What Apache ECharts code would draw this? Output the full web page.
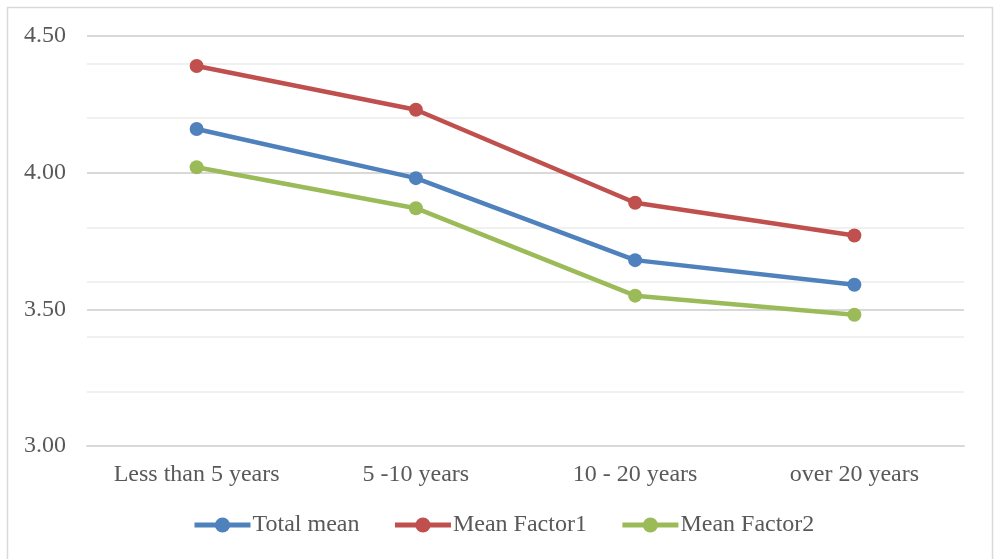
<!DOCTYPE html>
<html>
<head>
<meta charset="utf-8">
<script src="https://cdn.jsdelivr.net/npm/echarts@6/dist/echarts.min.js"></script>
<style>
  html, body { margin: 0; padding: 0; background: #fff; }
  #chart { width: 994px; height: 559px; }
</style>
</head>
<body>
<div id="chart"></div>
<script>
// Mean scores by years of experience
const categories = ['Less than 5 years', '5 -10 years', '10 - 20 years', 'over 20 years'];
const totalMean = [4.16, 3.98, 3.68, 3.59];
const meanFactor1 = [4.39, 4.23, 3.89, 3.77];
const meanFactor2 = [4.02, 3.87, 3.55, 3.48];
const seriesNames = ['Total mean', 'Mean Factor1', 'Mean Factor2'];
const seriesColors = ['#4F81BD', '#C0504D', '#9BBB59'];

const FONT = '"Liberation Serif", "Times New Roman", serif';
const TEXT_COLOR = '#595959';

const chart = echarts.init(document.getElementById('chart'), null, { renderer: 'canvas' });

function lineSeries(name, data, color) {
  return {
    name: name,
    type: 'line',
    yAxisIndex: 0,
    data: data,
    symbol: 'circle',
    symbolSize: 14,
    lineStyle: { color: color, width: 4.5 },
    itemStyle: { color: color },
    emphasis: { disabled: true },
    animation: false
  };
}

chart.setOption({
  backgroundColor: '#ffffff',
  animation: false,
  graphic: [{
    type: 'rect',
    shape: { x: 7.5, y: 7.5, width: 985, height: 570 },
    style: { fill: 'none', stroke: '#D9D9D9', lineWidth: 1.5 },
    silent: true,
    z: -10
  }],
  grid: { left: 87, right: 30, top: 36, bottom: 113, containLabel: false },
  legend: {
    data: seriesNames,
    bottom: 17,
    left: 187,
    itemWidth: 56,
    itemHeight: 19,
    itemGap: 33,
    lineStyle: { width: 5 },
    textStyle: { fontFamily: FONT, fontSize: 24, color: TEXT_COLOR, padding: [0, 0, 0, -3] }
  },
  xAxis: {
    type: 'category',
    data: categories,
    boundaryGap: true,
    axisLine: { show: true, lineStyle: { color: '#D9D9D9', width: 2 } },
    axisTick: { show: false },
    axisLabel: { fontFamily: FONT, fontSize: 24, color: TEXT_COLOR, margin: 17 }
  },
  yAxis: [{
    type: 'value',
    min: 3,
    max: 4.5,
    interval: 0.5,
    axisLine: { show: false },
    axisTick: { show: false },
    axisLabel: {
      fontFamily: FONT, fontSize: 24, color: TEXT_COLOR, margin: 21,
      formatter: v => v.toFixed(2)
    },
    splitLine: { show: true, lineStyle: { color: '#D9D9D9', width: 2 } },
    z: 2
  }, {
    // lighter minor gridlines every 0.2
    type: 'value',
    min: 3,
    max: 4.5,
    interval: 0.2,
    position: 'left',
    axisLine: { show: false },
    axisTick: { show: false },
    axisLabel: { show: false },
    splitLine: { show: true, lineStyle: { color: '#F0F0F0', width: 2 } },
    z: 1
  }],
  series: [
    lineSeries(seriesNames[0], totalMean, seriesColors[0]),
    lineSeries(seriesNames[1], meanFactor1, seriesColors[1]),
    lineSeries(seriesNames[2], meanFactor2, seriesColors[2])
  ]
});
</script>
</body>
</html>
